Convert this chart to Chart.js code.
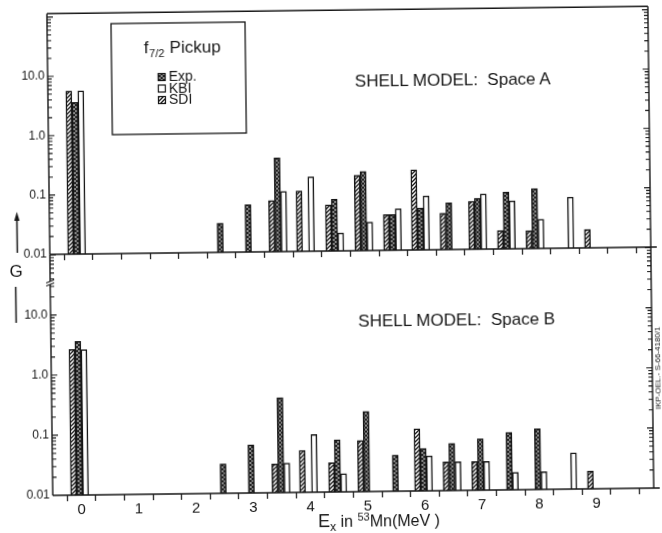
<!DOCTYPE html>
<html>
<head>
<meta charset="utf-8">
<script src="https://cdn.jsdelivr.net/npm/chart.js@4.4.1/dist/chart.umd.min.js"></script>
<style>
  body { margin: 0; background: #fff; }
  #figure {
    position: relative; width: 662px; height: 533px; overflow: visible;
    transform: rotate(-0.7deg);
    font-family: 'Liberation Sans', Arial, sans-serif; color: #161616;
  }
  #figure canvas { position: absolute; left: 0; top: 0; }
  .note { position: absolute; white-space: nowrap; transform: translate(-50%, -50%); line-height: 1; }
  .model { font-size: 17px; }
  #xTitle { font-size: 16px; }
  #xTitle .big { font-size: 18px; }
  #xTitle sub { font-size: 12px; vertical-align: -4px; }
  #xTitle sup { font-size: 11px; vertical-align: 6px; }
  #plate { font-size: 8px; transform: translate(-50%, -50%) rotate(-90deg); }
</style>
</head>
<body>
<div id="figure">
  <canvas id="spaceA" width="662" height="533"></canvas>
  <canvas id="spaceB" width="662" height="533"></canvas>
  <div class="note model" style="left:455px; top:81px;">SHELL MODEL:&nbsp; Space A</div>
  <div class="note model" style="left:456px; top:321px;">SHELL MODEL:&nbsp; Space B</div>
  <div class="note" id="xTitle" style="left:376px; top:522px;"><span class="big">E</span><sub>x</sub> in <sup>53</sup>Mn(MeV )</div>
  <div class="note" id="plate" style="left:657px; top:372px;">IKP-OEL.- S-66-4180/1</div>
</div>
<script>
const ink = '#161616';

// level energies in MeV; the bars of one level sit side by side (SDI, Exp, KBI)
const levels = [-0.03, 2.48, 2.97, 3.49, 3.97, 4.48, 4.99, 5.49, 5.98, 6.48, 6.98, 7.48, 7.98, 8.5, 9.0];
const expG = [3.6, 0.031, 0.063, 0.38, null, 0.074, 0.216, 0.040, 0.051, 0.061, 0.072, 0.090, 0.102, null, null];
// shell model, space A
const kbiA = [5.6, null, null, 0.103, 0.180, 0.020, 0.030, 0.050, 0.081, null, 0.085, 0.064, 0.031, 0.072, null];
const sdiA = [5.6, null, null, 0.073, 0.104, 0.060, 0.186, 0.040, 0.224, 0.041, 0.064, 0.0204, 0.020, null, 0.0205];
// shell model, space B
const kbiB = [2.63, null, null, 0.031, 0.091, 0.020, null, null, 0.038, 0.030, 0.030, 0.0195, 0.0197, 0.040, null];
const sdiB = [2.66, null, null, 0.030, 0.050, 0.031, 0.071, null, 0.108, 0.030, 0.030, null, null, null, 0.0196];

const decadeLabels = [0.01, 0.1, 1, 10];
const energyLabels = [0, 1, 2, 3, 4, 5, 6, 7, 8, 9];

function makePattern(size, draw) {
    const c = document.createElement('canvas');
    c.width = c.height = size;
    const g = c.getContext('2d');
    draw(g, size);
    return g.createPattern(c, 'repeat');
}

// dark cross-hatch for the measured strengths
const expFill = makePattern(4, function (g, n) {
    g.fillStyle = '#8a8a8a';
    g.fillRect(0, 0, n, n);
    g.fillStyle = '#222';
    for (let i = 0; i < n; i++) {
        g.fillRect(i, i, 1, 1);
        g.fillRect(n - 1 - i, i, 1, 1);
    }
});

// single diagonal hatch for SDI
const sdiFill = makePattern(4, function (g, n) {
    g.fillStyle = '#fff';
    g.fillRect(0, 0, n, n);
    g.strokeStyle = ink;
    g.lineWidth = 1.3;
    g.beginPath();
    g.moveTo(-1, n + 1); g.lineTo(n + 1, -1);
    g.moveTo(-1, 1); g.lineTo(1, -1);
    g.moveTo(n - 1, n + 1); g.lineTo(n + 1, n - 1);
    g.stroke();
});

function points(values) {
    return levels.map((x, i) => ({ x: x, y: values[i] }));
}

function isDecade(v) {
    const l = Math.log10(v);
    return Math.abs(l - Math.round(l)) < 1e-6;
}

// box, inward log ticks on both vertical axes
const framePlugin = {
    id: 'frame',
    afterDraw(chart, args, opts) {
        const { ctx, chartArea: a } = chart;
        const y = chart.scales.y;
        ctx.save();
        ctx.strokeStyle = ink;
        ctx.lineWidth = 1.4;
        ctx.beginPath();
        ctx.moveTo(a.left, a.top); ctx.lineTo(a.left, a.bottom);
        ctx.moveTo(a.right, a.top); ctx.lineTo(a.right, a.bottom);
        ctx.moveTo(a.left, a.bottom); ctx.lineTo(a.right + 6, a.bottom);
        if (opts.closed) {
            ctx.moveTo(a.left, a.top); ctx.lineTo(a.right, a.top);
        }
        ctx.stroke();

        ctx.lineWidth = 1.1;
        ctx.beginPath();
        for (let e = -2; e <= 2; e++) {
            for (let m = 1; m <= 9; m++) {
                const v = m * Math.pow(10, e);
                if (v <= y.min * 1.0001 || v > y.max) continue;
                const py = y.getPixelForValue(v);
                const len = m === 1 ? 6 : 4;
                ctx.moveTo(a.left, py); ctx.lineTo(a.left + len, py);
                ctx.moveTo(a.right, py); ctx.lineTo(a.right - len, py);
            }
        }
        ctx.stroke();

        if (opts.axisBreak) {
            // break marks on the left axis just below the upper panel
            const by = a.top + 29;
            ctx.fillStyle = '#fff';
            ctx.fillRect(a.left - 2, by - 2, 4, 3);
            ctx.lineWidth = 1.1;
            ctx.beginPath();
            ctx.moveTo(a.left - 4, by - 0.5); ctx.lineTo(a.left + 4, by - 3.5);
            ctx.moveTo(a.left - 4, by + 2.5); ctx.lineTo(a.left + 4, by - 0.5);
            ctx.stroke();
        }
        ctx.restore();
    }
};

// legend box and the G axis marker
const legendPlugin = {
    id: 'legendBox',
    afterDraw(chart) {
        const ctx = chart.ctx;
        const ds = chart.data.datasets;
        ctx.save();
        ctx.strokeStyle = ink;
        ctx.fillStyle = '#fff';
        ctx.lineWidth = 1.3;
        ctx.fillRect(114, 21, 134, 111);
        ctx.strokeRect(114, 21, 134, 111);

        ctx.fillStyle = ink;
        ctx.textBaseline = 'alphabetic';
        const big = '17px "Liberation Sans", Arial, sans-serif';
        const small = '11px "Liberation Sans", Arial, sans-serif';
        ctx.font = big;
        const wF = ctx.measureText('f').width;
        const wP = ctx.measureText(' Pickup').width;
        ctx.font = small;
        const wS = ctx.measureText('7/2').width;
        let tx = 184.5 - (wF + wS + wP) / 2;
        ctx.font = big;
        ctx.fillText('f', tx, 51);
        ctx.font = small;
        ctx.fillText('7/2', tx + wF + 0.5, 55);
        ctx.font = big;
        ctx.fillText(' Pickup', tx + wF + wS + 1, 51);

        // entries listed as Exp., KBI, SDI
        const order = [1, 2, 0];
        ctx.font = '14px "Liberation Sans", Arial, sans-serif';
        ctx.textBaseline = 'middle';
        order.forEach(function (di, k) {
            const yy = 75 + k * 11.5;
            ctx.fillStyle = ds[di].backgroundColor;
            ctx.fillRect(160.5, yy - 3.5, 7, 7);
            ctx.lineWidth = 1.2;
            ctx.strokeRect(160.5, yy - 3.5, 7, 7);
            ctx.fillStyle = ink;
            ctx.fillText(ds[di].label, 171, yy + 0.5);
        });

        // G with arrow above and bar below
        ctx.font = '17px "Liberation Sans", Arial, sans-serif';
        ctx.textAlign = 'center';
        ctx.fillText('G', 16, 268);
        ctx.lineWidth = 1.5;
        ctx.beginPath();
        ctx.moveTo(17.5, 249); ctx.lineTo(17.5, 214);
        ctx.moveTo(15.5, 283); ctx.lineTo(15.5, 319);
        ctx.stroke();
        ctx.beginPath();
        ctx.moveTo(17.5, 208); ctx.lineTo(14.8, 217); ctx.lineTo(20.2, 217);
        ctx.closePath();
        ctx.fill();
        ctx.restore();
    }
};

function panelChart(canvasId, kbi, sdi, yMax, padding, xHeight, withLabels, extraPlugins, frameOpts) {
    const bar = { barThickness: 6, borderColor: ink, borderWidth: 1.5, borderSkipped: 'start' };
    return new Chart(document.getElementById(canvasId), {
        type: 'bar',
        data: {
            datasets: [
                Object.assign({ label: 'SDI', data: points(sdi), backgroundColor: sdiFill }, bar),
                Object.assign({ label: 'Exp.', data: points(expG), backgroundColor: expFill }, bar),
                Object.assign({ label: 'KBI', data: points(kbi), backgroundColor: '#fff' }, bar)
            ]
        },
        options: {
            responsive: false,
            animation: false,
            events: [],
            layout: { padding: padding },
            plugins: {
                legend: { display: false },
                tooltip: { enabled: false },
                frame: frameOpts
            },
            scales: {
                x: {
                    type: 'linear',
                    offset: false,
                    min: -0.5,
                    max: 10,
                    afterFit: function (s) { s.height = xHeight; },
                    border: { display: false },
                    grid: { drawOnChartArea: false, drawTicks: true, tickLength: 6, color: ink, lineWidth: 1.2 },
                    ticks: {
                        stepSize: 0.5,
                        autoSkip: false,
                        maxRotation: 0,
                        padding: 0,
                        color: ink,
                        font: { family: '"Liberation Sans", Arial, sans-serif', size: 15 },
                        callback: function (v) {
                            return withLabels && energyLabels.includes(v) ? String(v) : '';
                        }
                    }
                },
                y: {
                    type: 'logarithmic',
                    min: 0.01,
                    max: yMax,
                    afterFit: function (s) { s.width = 50; },
                    border: { display: false },
                    grid: { display: false, drawTicks: false },
                    ticks: {
                        autoSkip: false,
                        padding: 3,
                        color: ink,
                        font: { family: '"Liberation Sans", Arial, sans-serif', size: 12 },
                        callback: function (v) {
                            if (!isDecade(v) || !decadeLabels.some(d => Math.abs(d - v) < 1e-9)) return '';
                            return v >= 1 ? v.toFixed(1) : String(v);
                        }
                    }
                }
            }
        },
        plugins: [framePlugin].concat(extraPlugins)
    });
}

panelChart('spaceA', kbiA, sdiA, 114, { top: 10, right: 11, bottom: 271, left: 0 }, 11, false, [legendPlugin], { closed: true });
panelChart('spaceB', kbiB, sdiB, 102, { top: 251, right: 11, bottom: 0, left: 0 }, 41, true, [], { closed: false, axisBreak: true });
</script>
</body>
</html>
